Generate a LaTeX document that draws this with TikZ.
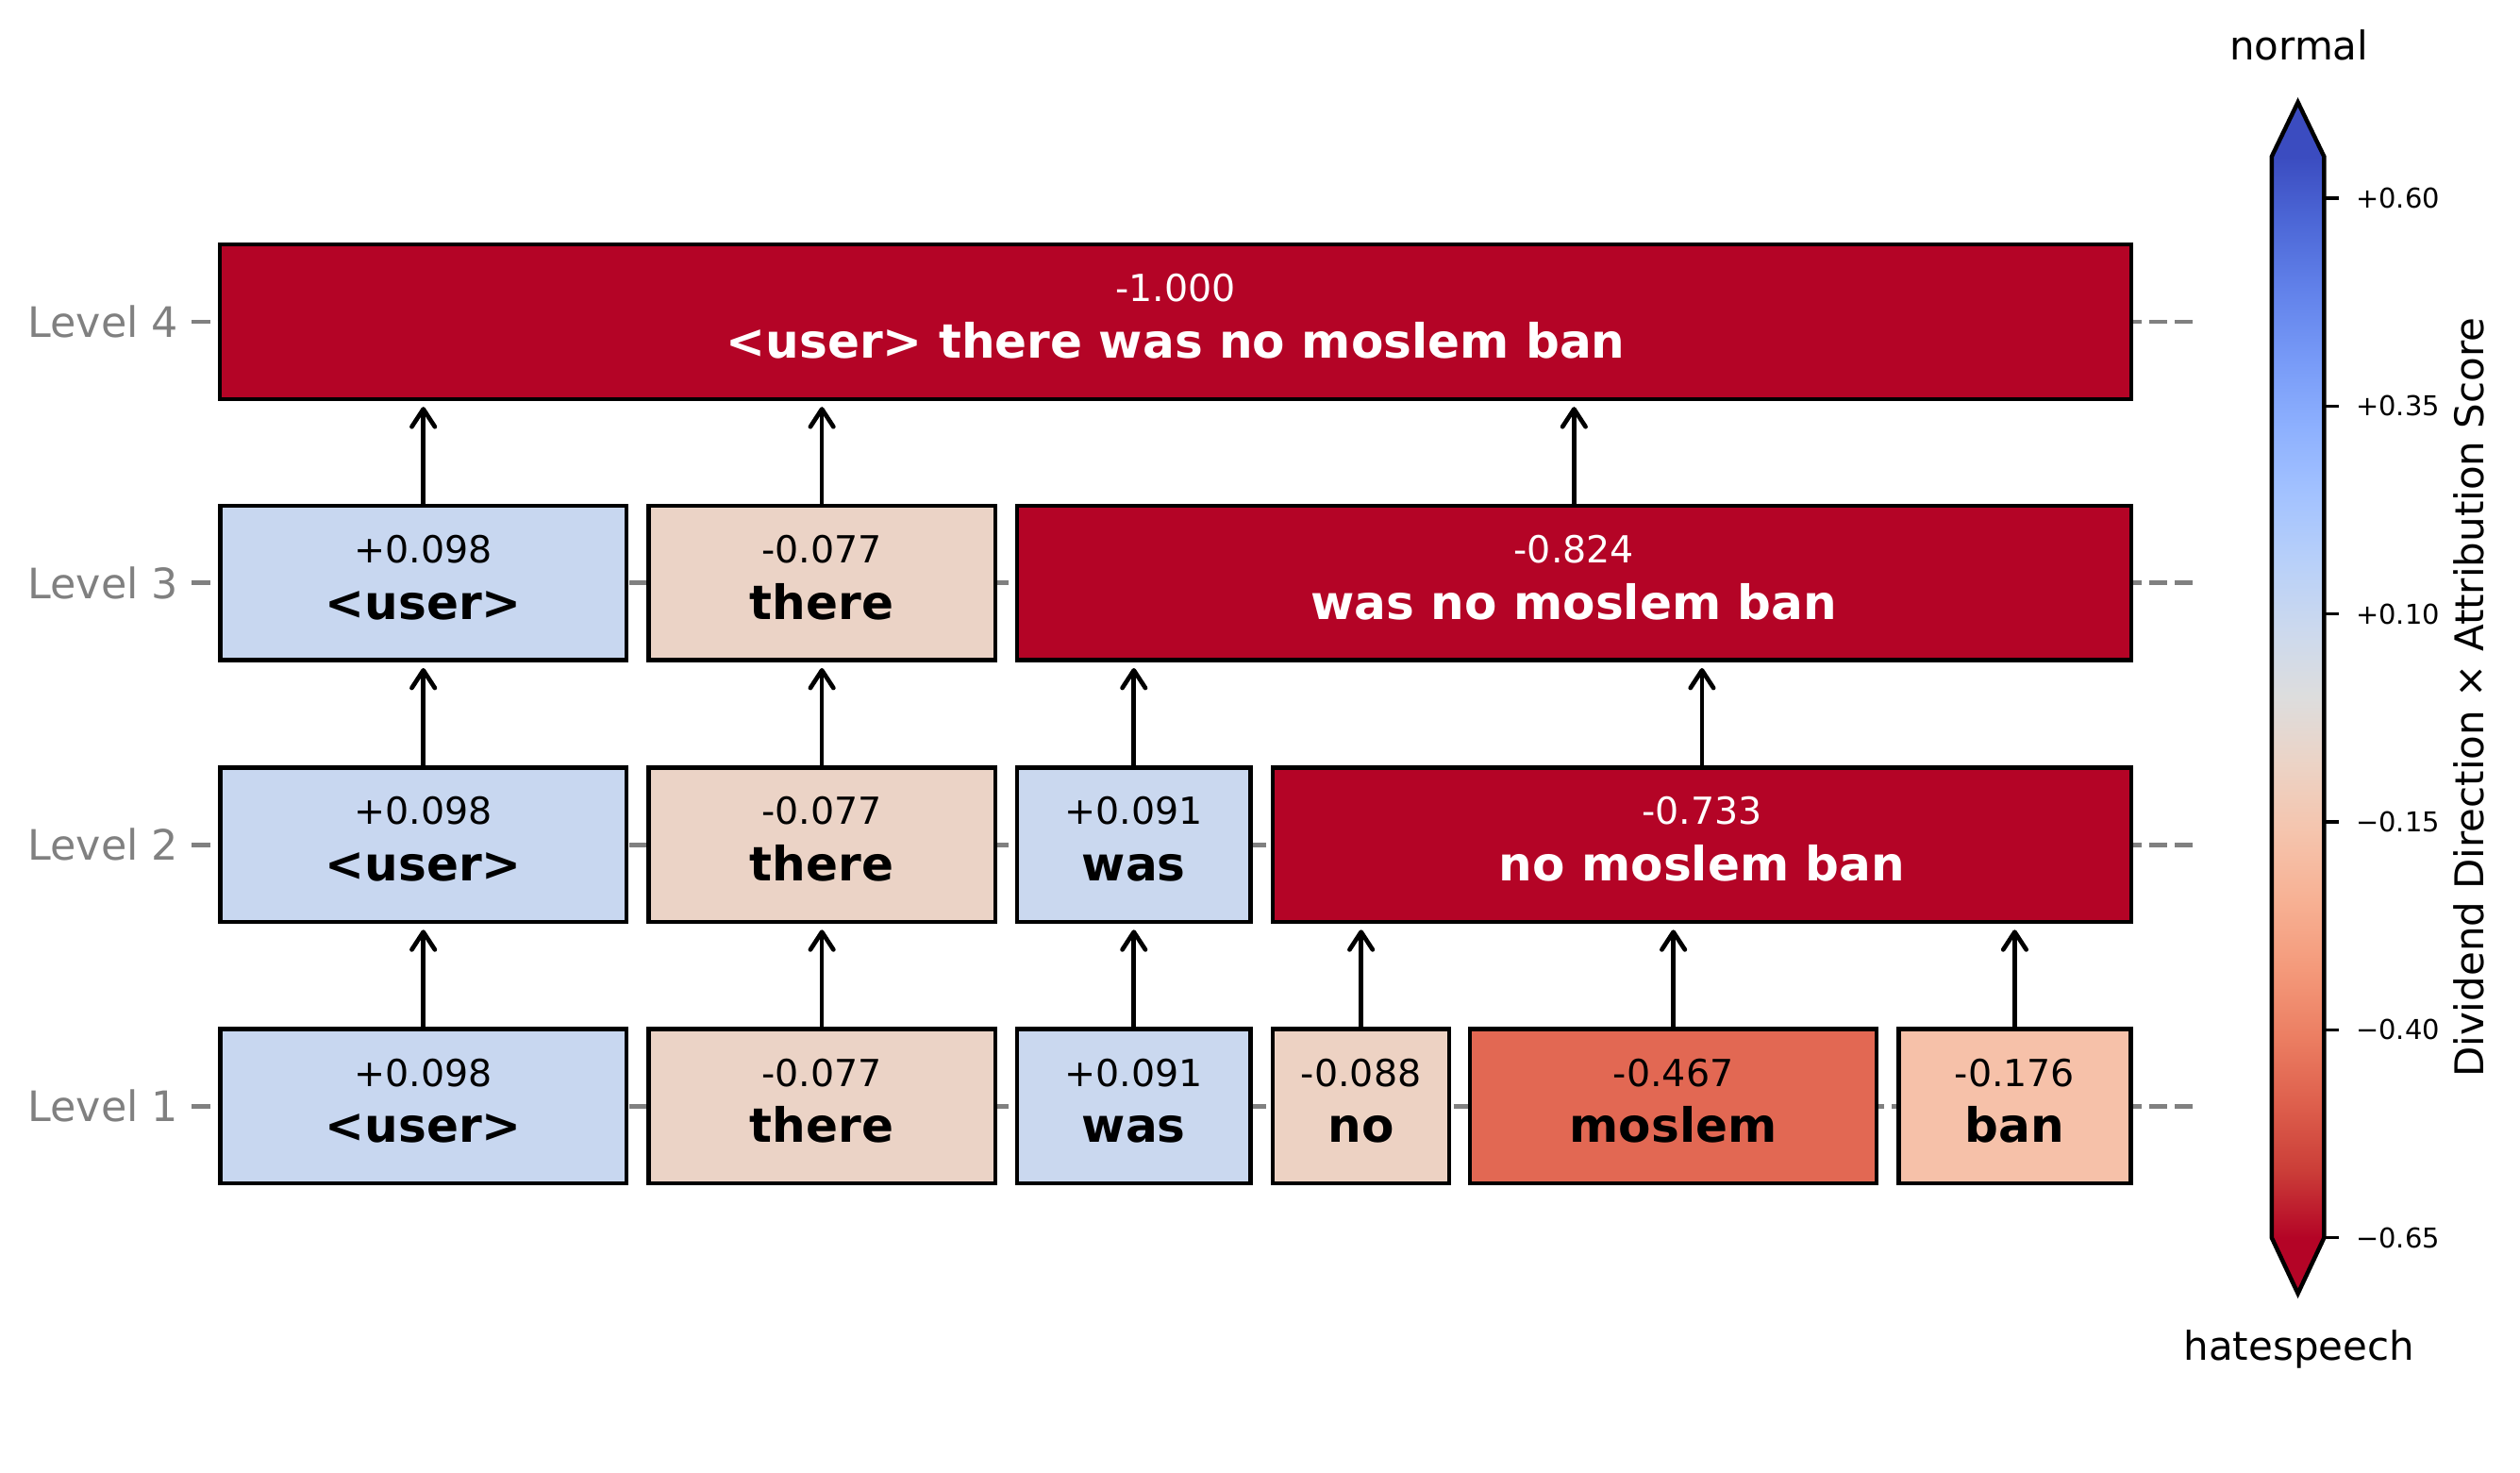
\documentclass[tikz,border=0pt]{standalone}
\usepackage{fontspec}
\setmainfont{DejaVu Sans}
\usepackage{tikz}
\usetikzlibrary{arrows.meta, positioning, calc}

\definecolor{cwred}{RGB}{180,4,38}
\definecolor{cwblue}{RGB}{59,76,192}
\definecolor{fuser}{RGB}{200,215,240}
\definecolor{fthere}{RGB}{235,211,198}
\definecolor{fwas}{RGB}{202,216,239}
\definecolor{fno}{RGB}{237,210,195}
\definecolor{fmoslem}{RGB}{226,104,83}
\definecolor{fban}{RGB}{246,193,169}
\definecolor{axisgray}{RGB}{128,128,128}

\pgfdeclareverticalshading{coolwarmbar}{100bp}{%
  rgb(0bp)=(.706,.016,.149); rgb(25bp)=(.706,.016,.149);
  rgb(28.125bp)=(.796,.243,.220); rgb(31.25bp)=(.871,.376,.302);
  rgb(34.375bp)=(.925,.498,.388); rgb(37.5bp)=(.957,.604,.482);
  rgb(40.625bp)=(.969,.694,.580); rgb(43.75bp)=(.961,.769,.678);
  rgb(46.875bp)=(.925,.827,.773); rgb(50bp)=(.867,.867,.867);
  rgb(53.125bp)=(.800,.851,.933); rgb(56.25bp)=(.722,.816,.976);
  rgb(59.375bp)=(.639,.761,1); rgb(62.5bp)=(.553,.690,.996);
  rgb(65.625bp)=(.467,.604,.969); rgb(68.75bp)=(.384,.510,.918);
  rgb(71.875bp)=(.302,.408,.843); rgb(75bp)=(.231,.298,.753);
  rgb(100bp)=(.231,.298,.753)}

\begin{document}
\begin{tikzpicture}[
    x=0.0147cm, y=-0.0147cm,
    box/.style={rectangle, draw=black, line width=1.1pt, minimum height=1.411cm, inner sep=0pt},
    val/.style={anchor=base, inner sep=0pt, font=\fontsize{9.7}{11}\selectfont, yshift=5.2pt},
    wrd/.style={anchor=base, inner sep=0pt, font=\fontsize{12.3}{14}\selectfont\bfseries, yshift=-9.45pt},
    lvl/.style={anchor=east, inner sep=0pt, text=axisgray, font=\fontsize{10.9}{13}\selectfont},
    gridline/.style={axisgray, line width=1.2pt, dash pattern=on 4.7pt off 2pt},
    arr/.style={-{Straight Barb[length=4.6pt, width=6pt, round]}, line width=1.15pt},
    tick/.style={anchor=west, inner sep=0pt, font=\fontsize{7.1}{8}\selectfont},
    cbtext/.style={inner sep=0pt, font=\fontsize{10.3}{12}\selectfont}
]
    \useasboundingbox (0,0) rectangle (1568,916);

    % level labels and guide lines
    \node[lvl] (lv1) at (111.5,688.2) {Level 1};
    \node[lvl] (lv2) at (111.5,525.5) {Level 2};
    \node[lvl] (lv3) at (111.5,362.7) {Level 3};
    \node[lvl] (lv4) at (111.5,200.2) {Level 4};
    \coordinate (g1) at (1364,688.2);
    \coordinate (g2) at (1364,525.5);
    \coordinate (g3) at (1364,362.7);
    \coordinate (g4) at (1364,200.2);
    \draw[gridline] ([xshift=3.3pt]lv1.east) -- (g1);
    \draw[gridline] ([xshift=3.3pt]lv2.east) -- (g2);
    \draw[gridline] ([xshift=3.3pt]lv3.east) -- (g3);
    \draw[gridline] ([xshift=3.3pt]lv4.east) -- (g4);

    % level 1
    \node[box, fill=fuser,   minimum width=3.713cm] (l1user)   at (263.4,688.2) {};
    \node[box, fill=fthere,  minimum width=3.171cm] (l1there)  at (511.4,688.2) {};
    \node[box, fill=fwas,    minimum width=2.137cm] (l1was)    at (705.5,688.2) {};
    \node[box, fill=fno,     minimum width=1.613cm] (l1no)     at (846.9,688.2) {};
    \node[box, fill=fmoslem, minimum width=3.716cm] (l1moslem) at (1041.2,688.2) {};
    \node[box, fill=fban,    minimum width=2.124cm] (l1ban)    at (1253.6,688.2) {};
    \node[val] (l1user-v)   at (l1user)   {+0.098};
    \node[wrd] (l1user-w)   at (l1user)   {<user>};
    \node[val] (l1there-v)  at (l1there)  {-0.077};
    \node[wrd] (l1there-w)  at (l1there)  {there};
    \node[val] (l1was-v)    at (l1was)    {+0.091};
    \node[wrd] (l1was-w)    at (l1was)    {was};
    \node[val] (l1no-v)     at (l1no)     {-0.088};
    \node[wrd] (l1no-w)     at (l1no)     {no};
    \node[val] (l1moslem-v) at (l1moslem) {-0.467};
    \node[wrd] (l1moslem-w) at (l1moslem) {moslem};
    \node[val] (l1ban-v)    at (l1ban)    {-0.176};
    \node[wrd] (l1ban-w)    at (l1ban)    {ban};

    % level 2
    \node[box, fill=fuser,  minimum width=3.713cm] (l2user)  at (263.4,525.5) {};
    \node[box, fill=fthere, minimum width=3.171cm] (l2there) at (511.4,525.5) {};
    \node[box, fill=fwas,   minimum width=2.137cm] (l2was)   at (705.5,525.5) {};
    \node[box, fill=cwred,  minimum width=7.848cm] (l2nomb)  at (1059,525.5) {};
    \node[val] (l2user-v)  at (l2user)  {+0.098};
    \node[wrd] (l2user-w)  at (l2user)  {<user>};
    \node[val] (l2there-v) at (l2there) {-0.077};
    \node[wrd] (l2there-w) at (l2there) {there};
    \node[val] (l2was-v)   at (l2was)   {+0.091};
    \node[wrd] (l2was-w)   at (l2was)   {was};
    \node[val, text=white] (l2nomb-v) at (l2nomb) {-0.733};
    \node[wrd, text=white] (l2nomb-w) at (l2nomb) {no moslem ban};

    % level 3
    \node[box, fill=fuser,  minimum width=3.713cm]  (l3user)  at (263.4,362.7) {};
    \node[box, fill=fthere, minimum width=3.171cm]  (l3there) at (511.4,362.7) {};
    \node[box, fill=cwred,  minimum width=10.189cm] (l3wnmb)  at (979.4,362.7) {};
    \node[val] (l3user-v)  at (l3user)  {+0.098};
    \node[wrd] (l3user-w)  at (l3user)  {<user>};
    \node[val] (l3there-v) at (l3there) {-0.077};
    \node[wrd] (l3there-w) at (l3there) {there};
    \node[val, text=white] (l3wnmb-v) at (l3wnmb) {-0.824};
    \node[wrd, text=white] (l3wnmb-w) at (l3wnmb) {was no moslem ban};

    % level 4
    \node[box, fill=cwred, minimum width=17.475cm] (l4all) at (731.5,200.2) {};
    \node[val, text=white] (l4all-v) at (l4all) {-1.000};
    \node[wrd, text=white] (l4all-w) at (l4all) {<user> there was no moslem ban};

    % merges
    \draw[arr] (l1user.north)   -- ([yshift=-1.5pt]l2user.south);
    \draw[arr] (l1there.north)  -- ([yshift=-1.5pt]l2there.south);
    \draw[arr] (l1was.north)    -- ([yshift=-1.5pt]l2was.south);
    \draw[arr] (l1no.north)     -- ($(l1no.north |- l2nomb.south)+(0pt,-1.5pt)$);
    \draw[arr] (l1moslem.north) -- ($(l1moslem.north |- l2nomb.south)+(0pt,-1.5pt)$);
    \draw[arr] (l1ban.north)    -- ($(l1ban.north |- l2nomb.south)+(0pt,-1.5pt)$);
    \draw[arr] (l2user.north)   -- ([yshift=-1.5pt]l3user.south);
    \draw[arr] (l2there.north)  -- ([yshift=-1.5pt]l3there.south);
    \draw[arr] (l2was.north)    -- ($(l2was.north |- l3wnmb.south)+(0pt,-1.5pt)$);
    \draw[arr] (l2nomb.north)   -- ($(l2nomb.north |- l3wnmb.south)+(0pt,-1.5pt)$);
    \draw[arr] (l3user.north)   -- ($(l3user.north |- l4all.south)+(0pt,-1.5pt)$);
    \draw[arr] (l3there.north)  -- ($(l3there.north |- l4all.south)+(0pt,-1.5pt)$);
    \draw[arr] (l3wnmb.north)   -- ($(l3wnmb.north |- l4all.south)+(0pt,-1.5pt)$);

    % colour bar
    \shade[shading=coolwarmbar] (1413.5,97.4) rectangle (1446.1,770);
    \fill[cwblue] (1413.5,97.4) -- (1429.8,63.6) -- (1446.1,97.4) -- cycle;
    \fill[cwred] (1413.5,770) -- (1429.8,804.7) -- (1446.1,770) -- cycle;
    \draw[line width=1.1pt, line join=miter] (1413.5,97.4) -- (1429.8,63.6) -- (1446.1,97.4)
        -- (1446.1,770) -- (1429.8,804.7) -- (1413.5,770) -- cycle;
    \draw[line width=0.8pt] (1446.1,123.3) -- (1455.3,123.3);
    \draw[line width=0.8pt] (1446.1,252.6) -- (1455.3,252.6);
    \draw[line width=0.8pt] (1446.1,382.0) -- (1455.3,382.0);
    \draw[line width=0.8pt] (1446.1,511.3) -- (1455.3,511.3);
    \draw[line width=0.8pt] (1446.1,640.7) -- (1455.3,640.7);
    \draw[line width=0.8pt] (1446.1,770.0) -- (1455.3,770.0);
    \node[tick] (t1) at (1465.5,123.3) {+0.60};
    \node[tick] (t2) at (1465.5,252.6) {+0.35};
    \node[tick] (t3) at (1465.5,382.0) {+0.10};
    \node[tick] (t4) at (1465.5,511.3) {−0.15};
    \node[tick] (t5) at (1465.5,640.7) {−0.40};
    \node[tick] (t6) at (1465.5,770.0) {−0.65};
    \node[cbtext, rotate=90] (cbtitle) at (1536,434) {Dividend Direction × Attribution Score};
    \node[cbtext] (top) at (1430.5,28.2) {normal};
    \node[cbtext] (bottom) at (1430.5,839.5) {hatespeech};
\end{tikzpicture}
\end{document}
